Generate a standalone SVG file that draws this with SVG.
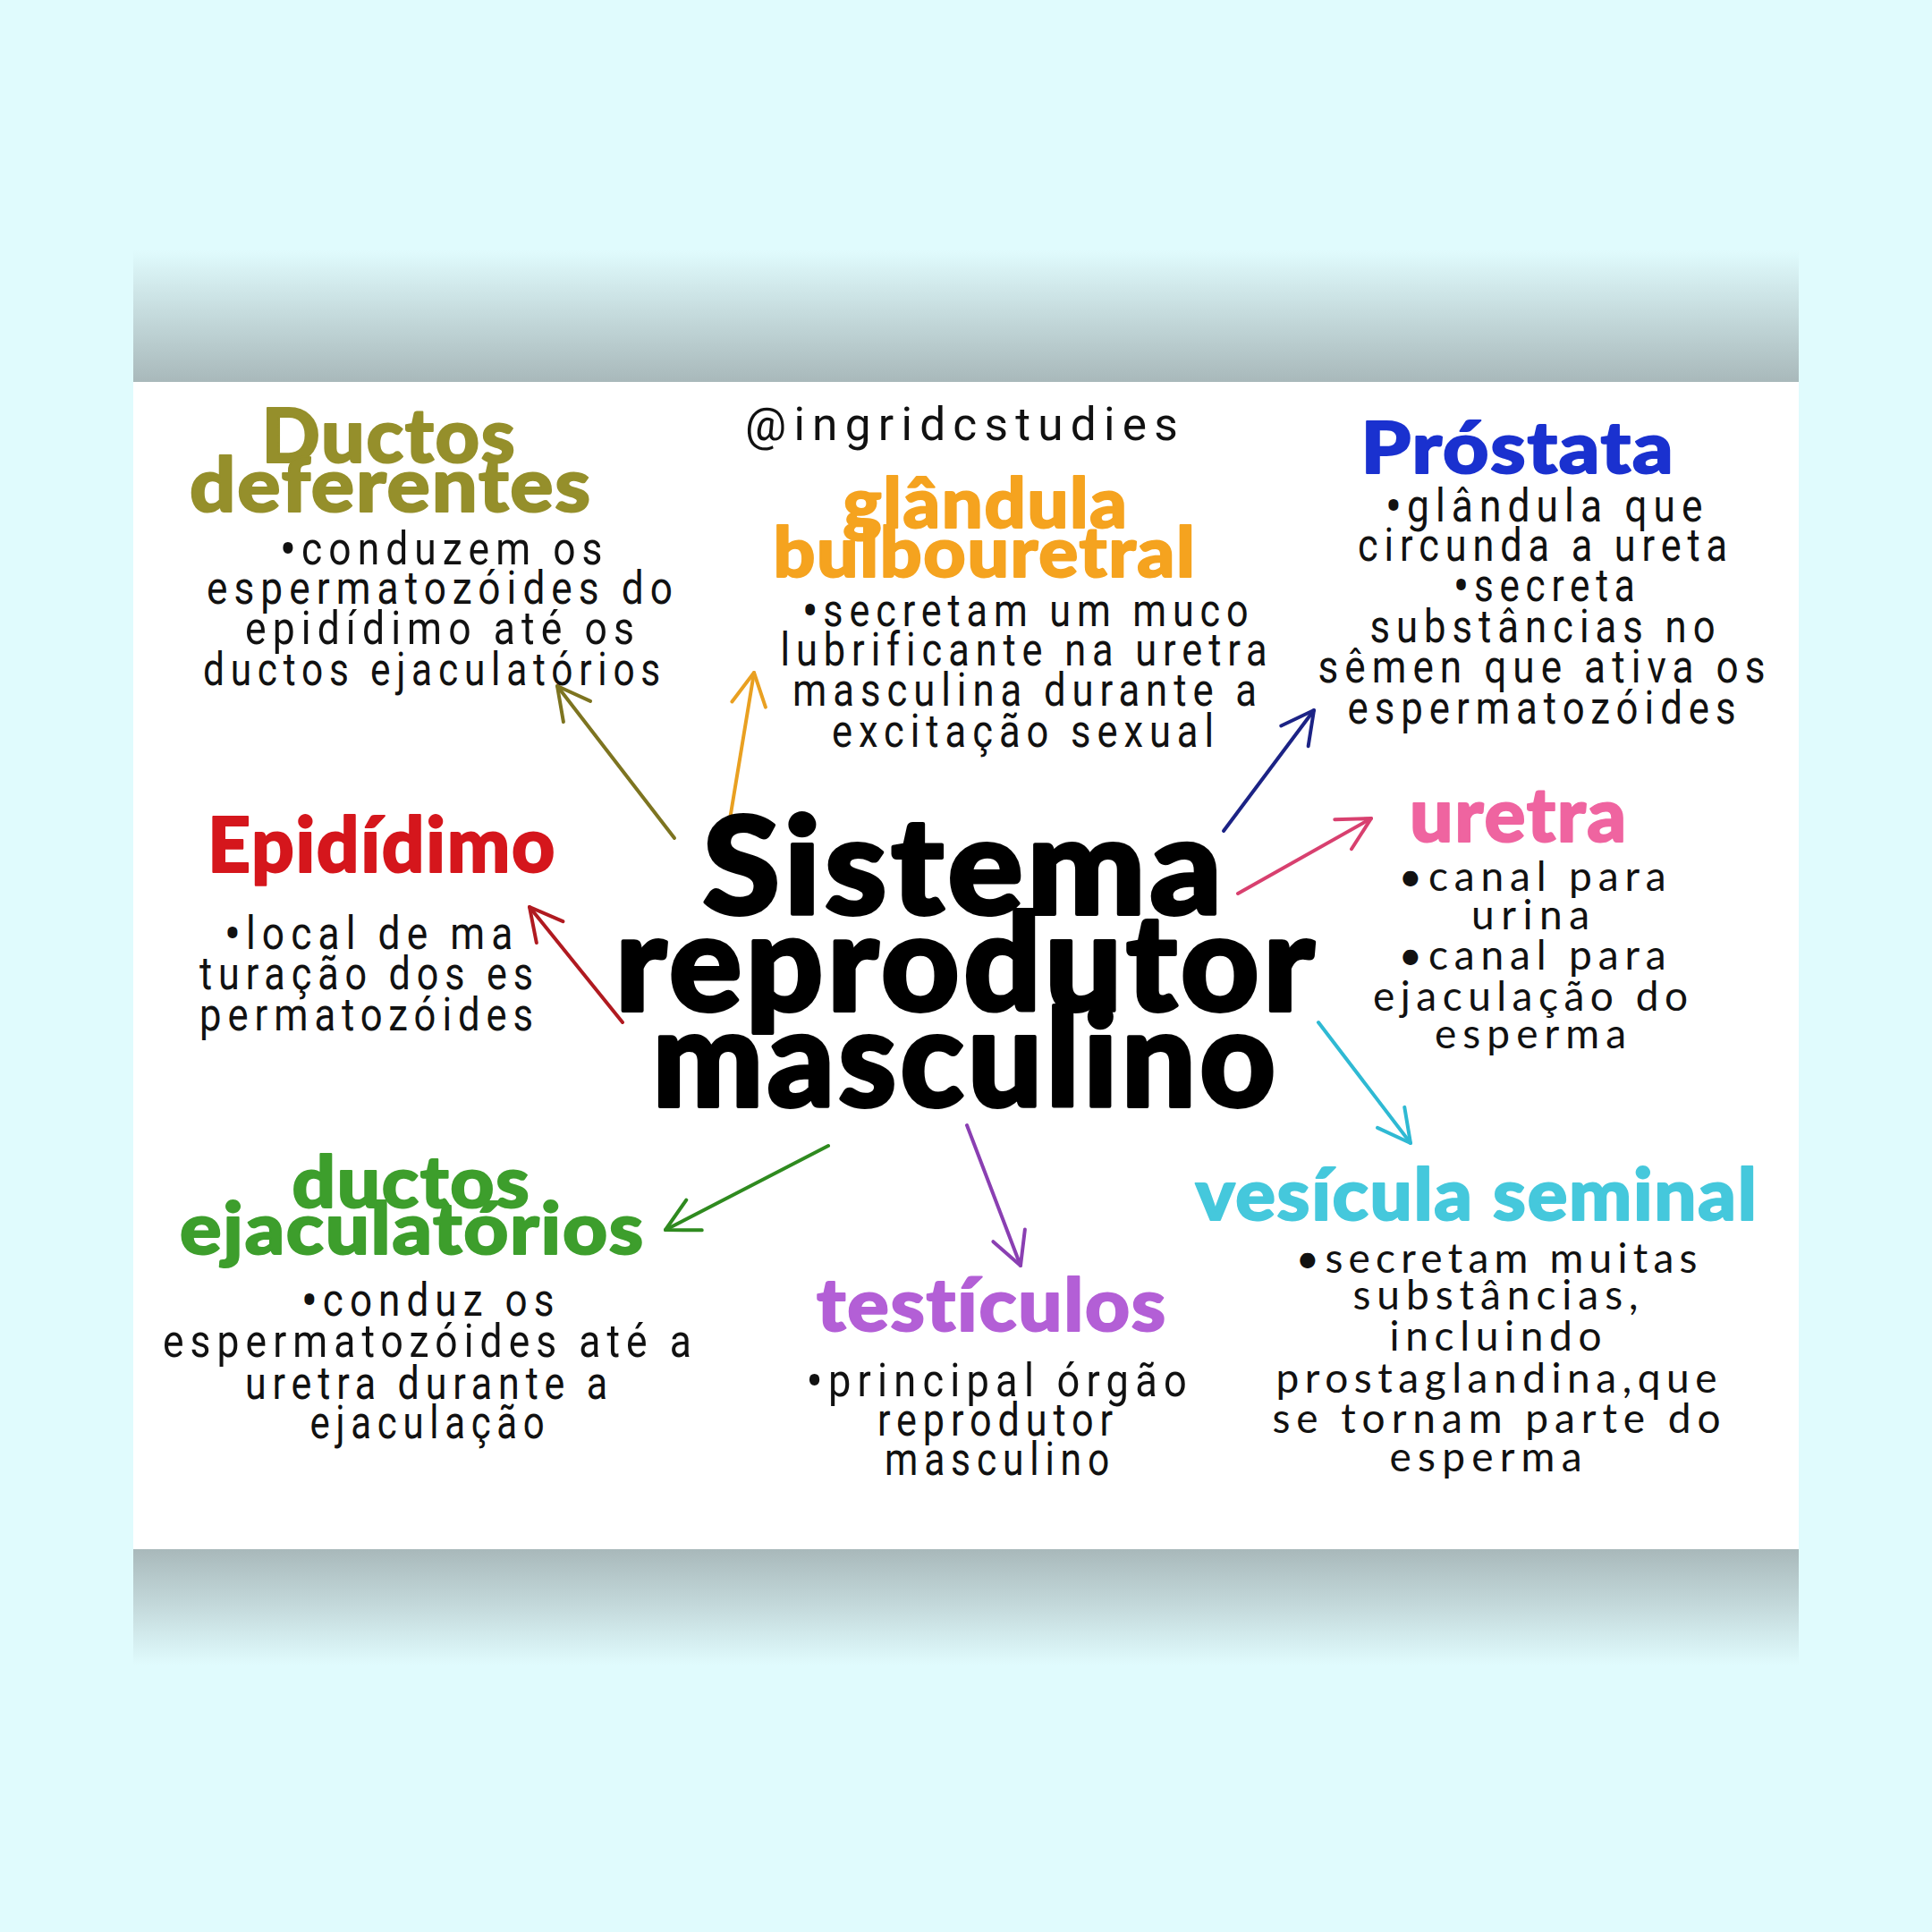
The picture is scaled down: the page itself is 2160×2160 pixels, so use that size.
<svg xmlns="http://www.w3.org/2000/svg" width="2160" height="2160" viewBox="0 0 2160 2160">
<defs>
<linearGradient id="gTop" x1="0" y1="0" x2="0" y2="1">
<stop offset="0" stop-color="#e0fbfd" stop-opacity="1"/>
<stop offset="1" stop-color="#a8b8ba"/>
</linearGradient>
<linearGradient id="gBot" x1="0" y1="0" x2="0" y2="1">
<stop offset="0" stop-color="#a8b8ba"/>
<stop offset="1" stop-color="#e0fbfd"/>
</linearGradient>
<marker id="mOlive" markerUnits="userSpaceOnUse" markerWidth="60" markerHeight="60" viewBox="-50 -30 60 60" refX="0" refY="0" orient="auto"><path d="M-36,-19 L0,0 L-36,19" fill="none" stroke="#7d7420" stroke-width="4" stroke-linecap="round" stroke-linejoin="round"/></marker>
<marker id="mOrange" markerUnits="userSpaceOnUse" markerWidth="60" markerHeight="60" viewBox="-50 -30 60 60" refX="0" refY="0" orient="auto"><path d="M-36,-19 L0,0 L-36,19" fill="none" stroke="#e9a021" stroke-width="4" stroke-linecap="round" stroke-linejoin="round"/></marker>
<marker id="mNavy" markerUnits="userSpaceOnUse" markerWidth="60" markerHeight="60" viewBox="-50 -30 60 60" refX="0" refY="0" orient="auto"><path d="M-36,-19 L0,0 L-36,19" fill="none" stroke="#1c2385" stroke-width="4" stroke-linecap="round" stroke-linejoin="round"/></marker>
<marker id="mPink" markerUnits="userSpaceOnUse" markerWidth="60" markerHeight="60" viewBox="-50 -30 60 60" refX="0" refY="0" orient="auto"><path d="M-36,-19 L0,0 L-36,19" fill="none" stroke="#d8406f" stroke-width="4" stroke-linecap="round" stroke-linejoin="round"/></marker>
<marker id="mCyan" markerUnits="userSpaceOnUse" markerWidth="60" markerHeight="60" viewBox="-50 -30 60 60" refX="0" refY="0" orient="auto"><path d="M-36,-19 L0,0 L-36,19" fill="none" stroke="#2fb9d3" stroke-width="4" stroke-linecap="round" stroke-linejoin="round"/></marker>
<marker id="mPurple" markerUnits="userSpaceOnUse" markerWidth="60" markerHeight="60" viewBox="-50 -30 60 60" refX="0" refY="0" orient="auto"><path d="M-36,-19 L0,0 L-36,19" fill="none" stroke="#8a3fb2" stroke-width="4" stroke-linecap="round" stroke-linejoin="round"/></marker>
<marker id="mGreen" markerUnits="userSpaceOnUse" markerWidth="60" markerHeight="60" viewBox="-50 -30 60 60" refX="0" refY="0" orient="auto"><path d="M-36,-19 L0,0 L-36,19" fill="none" stroke="#2f8a1f" stroke-width="4" stroke-linecap="round" stroke-linejoin="round"/></marker>
<marker id="mRed" markerUnits="userSpaceOnUse" markerWidth="60" markerHeight="60" viewBox="-50 -30 60 60" refX="0" refY="0" orient="auto"><path d="M-36,-19 L0,0 L-36,19" fill="none" stroke="#b01a20" stroke-width="4" stroke-linecap="round" stroke-linejoin="round"/></marker>
</defs>
<style>
.title{font-family:"Lato","Noto Sans",sans-serif;font-weight:900;text-anchor:middle;stroke-width:2px;stroke-linejoin:round;letter-spacing:0.02em}
.center{font-family:"Lato","Noto Sans",sans-serif;font-weight:900;text-anchor:middle;fill:#000000;stroke:#000000;stroke-width:4px;stroke-linejoin:round;font-size:150px;letter-spacing:0.03em}
.body{font-family:"Roboto","Liberation Sans",sans-serif;font-weight:400;text-anchor:middle;fill:#111111;font-size:52px;letter-spacing:0.16em}
.blt{font-weight:900}
.round{font-family:"Lato","Noto Sans",sans-serif;font-weight:normal;text-anchor:middle;fill:#111111;font-size:46px}
.con{fill:none;stroke-width:4;stroke-linecap:round}
</style>
<rect x="0" y="0" width="2160" height="2160" fill="#e0fbfd"/>
<rect x="149" y="280" width="1862" height="148" fill="url(#gTop)"/>
<rect x="149" y="1731" width="1862" height="130" fill="url(#gBot)"/>
<rect x="149" y="427" width="1862" height="1305" fill="#ffffff"/>

<g id="connectors">
<path class="con" d="M754,937 L623,767" stroke="#7d7420" marker-end="url(#mOlive)"/>
<path class="con" d="M816,916 L843,752" stroke="#e9a021" marker-end="url(#mOrange)"/>
<path class="con" d="M1368,929 L1469,794" stroke="#1c2385" marker-end="url(#mNavy)"/>
<path class="con" d="M1384,999 L1533,915" stroke="#d8406f" marker-end="url(#mPink)"/>
<path class="con" d="M1474,1143 L1577,1278" stroke="#2fb9d3" marker-end="url(#mCyan)"/>
<path class="con" d="M1081,1258 L1141,1415" stroke="#8a3fb2" marker-end="url(#mPurple)"/>
<path class="con" d="M926,1281 L744,1375" stroke="#2f8a1f" marker-end="url(#mGreen)"/>
<path class="con" d="M696,1143 L592,1014" stroke="#b01a20" marker-end="url(#mRed)"/>
</g>

<g id="handle">
<text class="body" x="1079" y="492" font-size="62" font-weight="300" textLength="492" lengthAdjust="spacingAndGlyphs">@ingridcstudies</text>
</g>

<g id="center-node">
<text class="center" x="1078" y="1022" textLength="585" lengthAdjust="spacingAndGlyphs">Sistema</text>
<text class="center" x="1081" y="1130" textLength="786" lengthAdjust="spacingAndGlyphs">reprodutor</text>
<text class="center" x="1080" y="1237" textLength="701" lengthAdjust="spacingAndGlyphs">masculino</text>
</g>

<g id="ductos-deferentes">
<text class="title" x="435" y="517" font-size="84" fill="#958f2b" stroke="#958f2b" textLength="285" lengthAdjust="spacingAndGlyphs">Ductos</text>
<text class="title" x="437" y="572" font-size="84" fill="#958f2b" stroke="#958f2b" textLength="450" lengthAdjust="spacingAndGlyphs">deferentes</text>
<text class="body" x="497" y="631" textLength="367" lengthAdjust="spacingAndGlyphs"><tspan class="blt">•</tspan>conduzem os</text>
<text class="body" x="495" y="675" textLength="528" lengthAdjust="spacingAndGlyphs">espermatozóides do</text>
<text class="body" x="495" y="720" textLength="442" lengthAdjust="spacingAndGlyphs">epidídimo até os</text>
<text class="body" x="486" y="766" textLength="518" lengthAdjust="spacingAndGlyphs">ductos ejaculatórios</text>
</g>

<g id="glandula-bulbouretral">
<text class="title" x="1102" y="590" font-size="78" fill="#f5a31f" stroke="#f5a31f" textLength="319" lengthAdjust="spacingAndGlyphs">glândula</text>
<text class="title" x="1101" y="645" font-size="78" fill="#f5a31f" stroke="#f5a31f" textLength="473" lengthAdjust="spacingAndGlyphs">bulbouretral</text>
<text class="body" x="1150" y="700" textLength="505" lengthAdjust="spacingAndGlyphs"><tspan class="blt">•</tspan>secretam um muco</text>
<text class="body" x="1148" y="744" textLength="551" lengthAdjust="spacingAndGlyphs">lubrificante na uretra</text>
<text class="body" x="1149" y="789" textLength="526" lengthAdjust="spacingAndGlyphs">masculina durante a</text>
<text class="body" x="1147" y="835" textLength="434" lengthAdjust="spacingAndGlyphs">excitação sexual</text>
</g>

<g id="prostata">
<text class="title" x="1697" y="529" font-size="80" fill="#1a31cf" stroke="#1a31cf" textLength="351" lengthAdjust="spacingAndGlyphs">Próstata</text>
<text class="body" x="1730" y="583" textLength="361" lengthAdjust="spacingAndGlyphs"><tspan class="blt">•</tspan>glândula que</text>
<text class="body" x="1728" y="627" textLength="420" lengthAdjust="spacingAndGlyphs">circunda a ureta</text>
<text class="body" x="1730" y="672" textLength="209" lengthAdjust="spacingAndGlyphs"><tspan class="blt">•</tspan>secreta</text>
<text class="body" x="1728" y="718" textLength="393" lengthAdjust="spacingAndGlyphs">substâncias no</text>
<text class="body" x="1727" y="763" textLength="507" lengthAdjust="spacingAndGlyphs">sêmen que ativa os</text>
<text class="body" x="1727" y="809" textLength="441" lengthAdjust="spacingAndGlyphs">espermatozóides</text>
</g>

<g id="epididimo">
<text class="title" x="427" y="975" font-size="86" fill="#d5161c" stroke="#d5161c" textLength="390" lengthAdjust="spacingAndGlyphs">Epidídimo</text>
<text class="body" x="416" y="1061" textLength="329" lengthAdjust="spacingAndGlyphs"><tspan class="blt">•</tspan>local de ma</text>
<text class="body" x="413" y="1106" textLength="380" lengthAdjust="spacingAndGlyphs">turação dos es</text>
<text class="body" x="413" y="1152" textLength="380" lengthAdjust="spacingAndGlyphs">permatozóides</text>
</g>

<g id="uretra">
<text class="title" x="1698" y="941" font-size="84" fill="#ef64a0" stroke="#ef64a0" textLength="244" lengthAdjust="spacingAndGlyphs">uretra</text>
<text class="round" x="1713" y="996" textLength="299">•canal para</text>
<text class="round" x="1711" y="1039" textLength="132">urina</text>
<text class="round" x="1713" y="1084" textLength="299">•canal para</text>
<text class="round" x="1711" y="1130" textLength="352">ejaculação do</text>
<text class="round" x="1711" y="1172" textLength="214">esperma</text>
</g>

<g id="vesicula-seminal">
<text class="title" x="1651" y="1364" font-size="80" fill="#45c8dc" stroke="#45c8dc" textLength="629" lengthAdjust="spacingAndGlyphs">vesícula seminal</text>
<text class="round" x="1673" y="1423" textLength="449">•secretam muitas</text>
<text class="round" x="1672" y="1464" textLength="319">substâncias,</text>
<text class="round" x="1672" y="1510" textLength="237">incluindo</text>
<text class="round" x="1673" y="1557" textLength="493">prostaglandina,que</text>
<text class="round" x="1673" y="1602" textLength="501">se tornam parte do</text>
<text class="round" x="1661" y="1645" textLength="215">esperma</text>
</g>

<g id="ductos-ejaculatorios">
<text class="title" x="460" y="1350" font-size="80" fill="#3d9e2c" stroke="#3d9e2c" textLength="267" lengthAdjust="spacingAndGlyphs">ductos</text>
<text class="title" x="461" y="1402" font-size="80" fill="#3d9e2c" stroke="#3d9e2c" textLength="520" lengthAdjust="spacingAndGlyphs">ejaculatórios</text>
<text class="body" x="482" y="1471" textLength="289" lengthAdjust="spacingAndGlyphs"><tspan class="blt">•</tspan>conduz os</text>
<text class="body" x="481" y="1517" textLength="598" lengthAdjust="spacingAndGlyphs">espermatozóides até a</text>
<text class="body" x="480" y="1564" textLength="412" lengthAdjust="spacingAndGlyphs">uretra durante a</text>
<text class="body" x="481" y="1608" textLength="269" lengthAdjust="spacingAndGlyphs">ejaculação</text>
</g>

<g id="testiculos">
<text class="title" x="1109" y="1488" font-size="82" fill="#b35fd6" stroke="#b35fd6" textLength="392" lengthAdjust="spacingAndGlyphs">testículos</text>
<text class="body" x="1118" y="1561" textLength="432" lengthAdjust="spacingAndGlyphs"><tspan class="blt">•</tspan>principal órgão</text>
<text class="body" x="1116" y="1605" textLength="270" lengthAdjust="spacingAndGlyphs">reprodutor</text>
<text class="body" x="1118" y="1649" textLength="258" lengthAdjust="spacingAndGlyphs">masculino</text>
</g>
</svg>
